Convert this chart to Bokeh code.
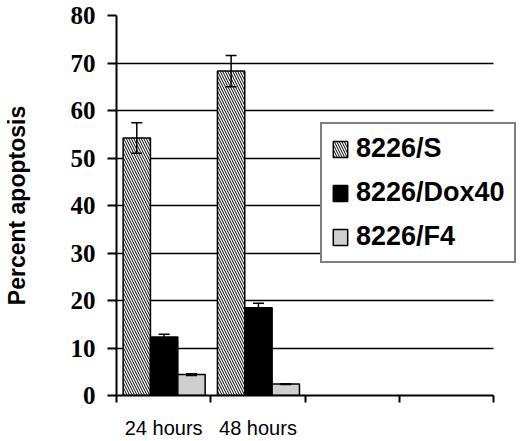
from bokeh.plotting import figure
from bokeh.models import (Range1d, FixedTicker, ColumnDataSource, Whisker, TeeHead,
                          Legend, LegendItem)
from bokeh.embed import file_html
from bokeh.resources import INLINE

# ---- data ----
categories = ["24 hours", "48 hours", "", ""]
series_names = ["8226/S", "8226/Dox40", "8226/F4"]
s_values = [54.2, 68.3]
s_errors = [3.2, 3.3]
dox_values = [12.3, 18.5]
dox_errors = [0.6, 0.9]
f4_values = [4.4, 2.4]
f4_errors = [0.2, 0.1]
y_ticks = [0, 10, 20, 30, 40, 50, 60, 70, 80]
y_label = "Percent apoptosis"

series_values = [s_values, dox_values, f4_values]
series_errors = [s_errors, dox_errors, f4_errors]
fills = ["white", "black", "#cfcfcf"]
hatches = ["\\", " ", " "]

bar_w = 0.29
first_offset = 0.215
n_cat = len(categories)

W, H = 520, 441
left_b, right_b, top_b, bottom_b = 112, 0, 15, 45
plot_w = 381  # pixel width of the category area
x_end = n_cat * (W - left_b - right_b) / plot_w

p = figure(width=W, height=H, output_backend="svg", toolbar_location=None,
           x_range=Range1d(0, x_end), y_range=Range1d(y_ticks[0], y_ticks[-1]),
           min_border_left=left_b, min_border_right=right_b, min_border_top=top_b,
           min_border_bottom=bottom_b)
p.outline_line_color = None
p.background_fill_color = "white"
p.border_fill_color = "white"

# y axis
p.yaxis.ticker = FixedTicker(ticks=y_ticks)
p.yaxis.major_tick_out = 9
p.yaxis.major_tick_in = 0
p.yaxis.minor_tick_line_color = None
p.yaxis.major_tick_line_width = 2
p.yaxis.axis_line_width = 2
p.yaxis.axis_line_color = "black"
p.yaxis.major_tick_line_color = "black"
p.yaxis.major_label_text_font = "Liberation Serif"
p.yaxis.major_label_text_font_style = "bold"
p.yaxis.major_label_text_font_size = "25px"
p.yaxis.major_label_text_color = "black"
p.yaxis.major_label_standoff = 12
p.yaxis.axis_label = y_label
p.yaxis.axis_label_text_font = "Liberation Sans"
p.yaxis.axis_label_text_font_style = "bold"
p.yaxis.axis_label_text_font_size = "23px"
p.yaxis.axis_label_text_color = "black"
p.yaxis.axis_label_standoff = 38

# x axis: labels at category centres, ticks at category boundaries
centres = [i + 0.5 for i in range(n_cat)]
bounds = [i for i in range(n_cat + 1)]
p.xaxis.bounds = (0, n_cat)
p.xaxis.ticker = FixedTicker(ticks=centres, minor_ticks=bounds)
p.xaxis.major_label_overrides = {c: lab for c, lab in zip(centres, categories)}
p.xaxis.major_tick_line_color = None
p.xaxis.major_tick_out = 0
p.xaxis.major_tick_in = 0
p.xaxis.minor_tick_out = 7
p.xaxis.minor_tick_in = 0
p.xaxis.minor_tick_line_color = "black"
p.xaxis.minor_tick_line_width = 2
p.xaxis.axis_line_width = 2
p.xaxis.axis_line_color = "black"
p.xaxis.major_label_text_font = "Liberation Sans"
p.xaxis.major_label_text_font_size = "20px"
p.xaxis.major_label_text_color = "black"
p.xaxis.major_label_standoff = 14

# grid
p.xgrid.visible = False
p.ygrid.ticker = FixedTicker(ticks=y_ticks)
p.ygrid.cross_bounds = (0, n_cat)
p.ygrid.grid_line_color = "black"
p.ygrid.grid_line_width = 1.5

renderers = []
for k, (vals, errs) in enumerate(zip(series_values, series_errors)):
    xs = [i + first_offset + k * bar_w for i in range(len(vals))]
    src = ColumnDataSource(dict(x=xs, top=vals,
                                upper=[v + e for v, e in zip(vals, errs)],
                                lower=[v - e for v, e in zip(vals, errs)]))
    r = p.vbar(x="x", top="top", width=bar_w, source=src,
               fill_color=fills[k], line_color="black", line_width=1.5,
               hatch_pattern=hatches[k], hatch_color="black", hatch_scale=5,
               hatch_weight=1)
    renderers.append(r)
    w = Whisker(source=src, base="x", upper="upper", lower="lower",
                line_color="black", line_width=1.5, level="annotation",
                upper_head=TeeHead(size=11, line_width=1.5, line_color="black"),
                lower_head=TeeHead(size=11, line_width=1.5, line_color="black"))
    p.add_layout(w)

legend = Legend(items=[LegendItem(label=n, renderers=[r]) for n, r in zip(series_names, renderers)],
                location=(204, 132))
legend.border_line_color = "black"
legend.border_line_width = 2
legend.background_fill_color = "white"
legend.background_fill_alpha = 1
legend.label_text_font = "Liberation Sans"
legend.label_text_font_style = "bold"
legend.label_text_font_size = "27px"
legend.label_text_color = "black"
legend.glyph_width = 18
legend.glyph_height = 20
legend.label_standoff = 7
legend.spacing = 13
legend.padding = 9
legend.margin = 0
p.add_layout(legend, "center")

open("out.html", "w").write(file_html(p, INLINE))
